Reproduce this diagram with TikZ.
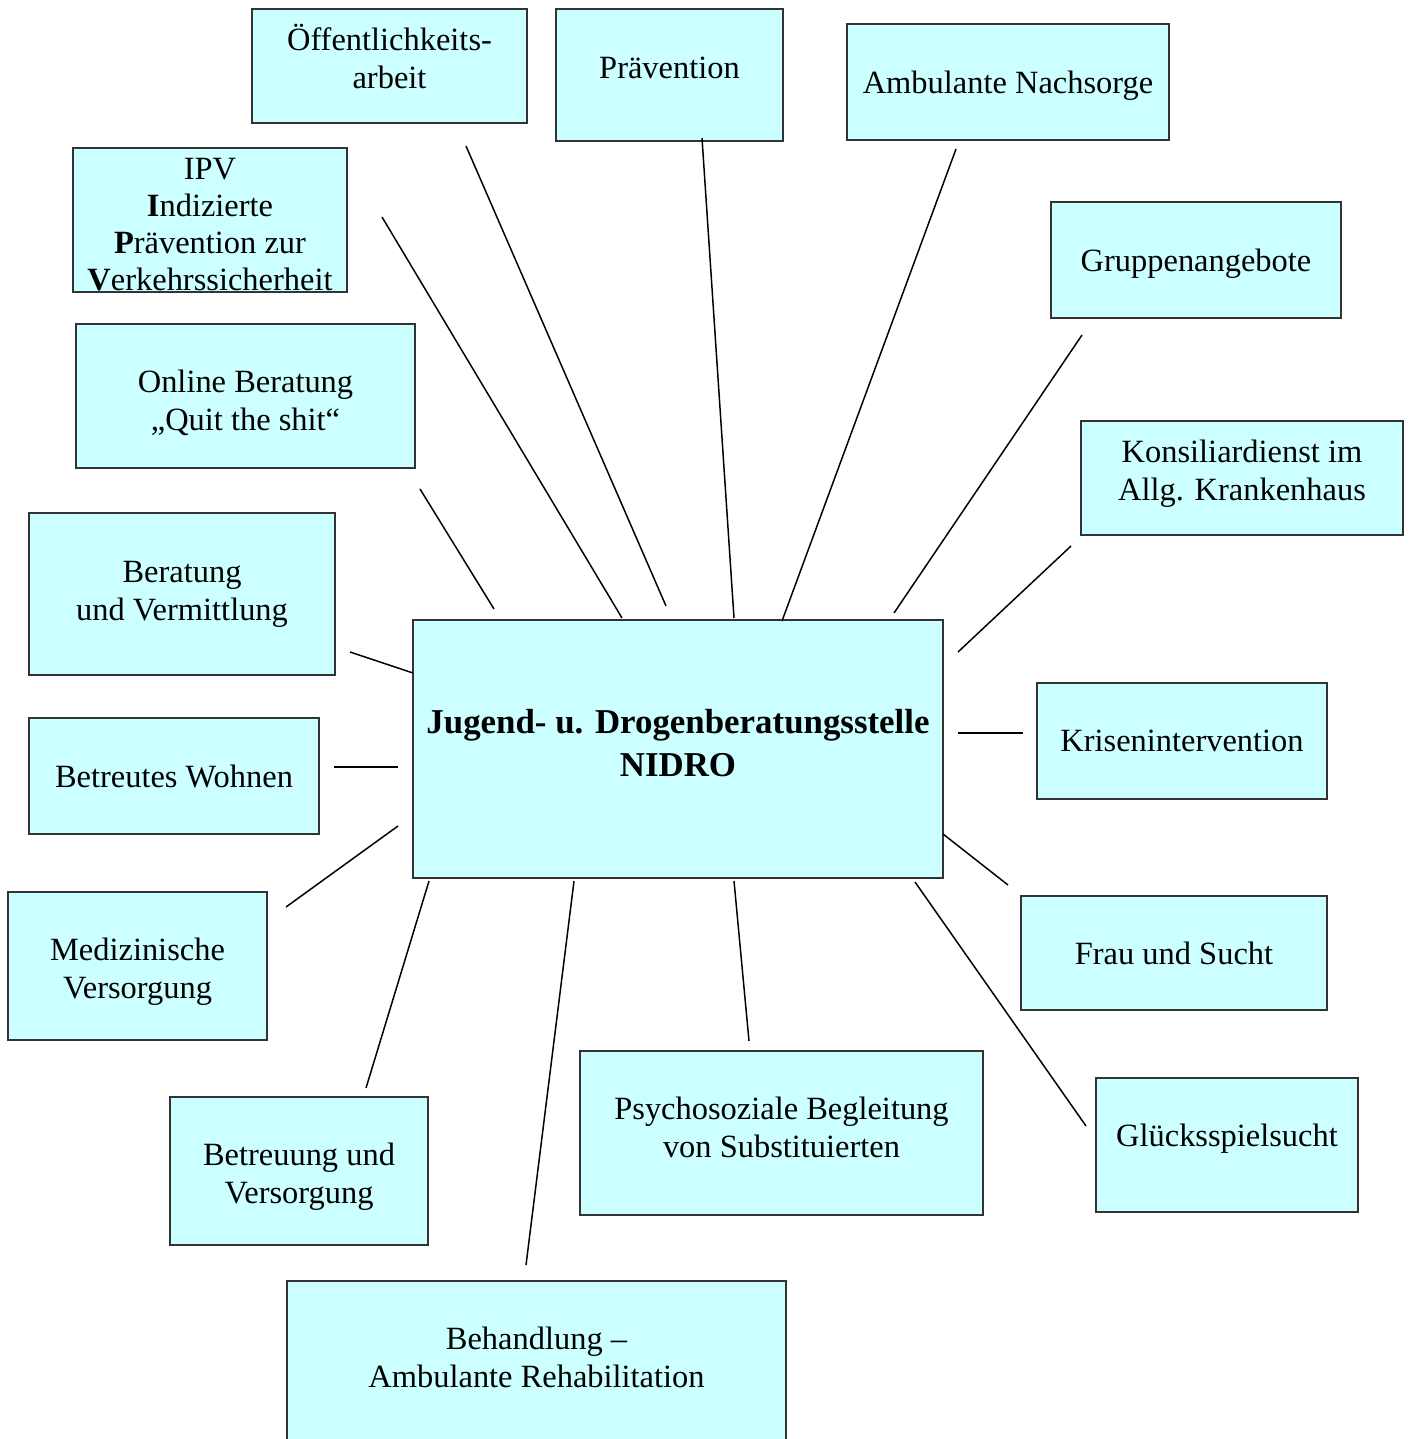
\documentclass[tikz,border=0pt]{standalone}
\usepackage{fontspec}
\setmainfont{Liberation Serif}
\definecolor{NidroCyan}{HTML}{CCFFFF}
\definecolor{FrameGray}{HTML}{333333}
\tikzset{
    box/.style={rectangle, draw=FrameGray, line width=0.4pt, fill=NidroCyan, align=center, inner sep=0pt, font=\fontsize{12}{14}\selectfont},
    hub/.style={box, font=\fontsize{12.9}{15.9}\selectfont\bfseries},
    size/.style 2 args={minimum width=#1*0.013cm, minimum height=#2*0.013cm},
    lnk/.style={draw=black, line width=0.55pt},
}
% Text etwas tiefer / hoeher setzen
\newcommand{\tdown}[1]{\rule{0pt}{#1}}
\newcommand{\tup}[1]{\rule[-#1]{0pt}{#1}}

\begin{document}
\begin{tikzpicture}[x=0.013cm, y=-0.013cm]
\clip (0,0) rectangle (1409,1439);
\fill[white] (0,0) rectangle (1409,1439);

% Zentrale
\node[hub, size={530}{258}] (nidro) at (678,749) {Jugend- u. Drogenberatungsstelle\\NIDRO\tup{4.4pt}};

% Angebote oben
\node[box, size={275}{114}] (oeff) at (389.5,66) {Öffentlichkeits-\\arbeit\tup{7.4pt}};
\node[box, size={227}{132}] (praev) at (669.5,75) {Prävention\tup{5.2pt}};
\node[box, size={322}{116}] (nachsorge) at (1008,82) {\tdown{11.2pt}Ambulante Nachsorge};
\node[box, size={274}{144}, font=\fontsize{12}{13.7}\selectfont] (ipv) at (210,220) {\tdown{11.2pt}IPV\\\textbf{I}ndizierte\\\textbf{P}rävention zur\\\textbf{V}erkehrssicherheit};
\node[box, size={290}{116}] (gruppe) at (1196,260) {\tdown{11.2pt}Gruppenangebote};

% Angebote links
\node[box, size={339}{144}] (online) at (245.5,396) {\tdown{13.4pt}Online Beratung\\„Quit the shit“};
\node[box, size={306}{162}] (beratung) at (182,594) {Beratung\\und Vermittlung};
\node[box, size={290}{116}] (wohnen) at (174,776) {Betreutes Wohnen};
\node[box, size={259}{148}] (medizin) at (137.5,966) {\tdown{12.6pt}Medizinische\\Versorgung};

% Angebote rechts
\node[box, size={322}{114}] (konsil) at (1242,478) {Konsiliardienst im\\Allg. Krankenhaus\tup{5.6pt}};
\node[box, size={290}{116}] (krise) at (1182,741) {Krisenintervention};
\node[box, size={306}{114}] (frau) at (1174,953) {Frau und Sucht};
\node[box, size={262}{134}] (gluecks) at (1227,1145) {Glücksspielsucht\tup{7pt}};

% Angebote unten
\node[box, size={258}{148}] (betreuung) at (299,1171) {\tdown{12.6pt}Betreuung und\\Versorgung};
\node[box, size={403}{164}] (psycho) at (781.5,1133) {Psychosoziale Begleitung\\von Substituierten\tup{4.4pt}};
\node[box, size={499}{160}] (behandlung) at (536.5,1361) {Behandlung –\\Ambulante Rehabilitation\tup{3pt}};

% Linienenden
\coordinate (oeff-a) at (466,146);      \coordinate (oeff-b) at (666,606);
\coordinate (praev-a) at (702,138);     \coordinate (praev-b) at (734,618);
\coordinate (nachsorge-a) at (956,149); \coordinate (nachsorge-b) at (782,621);
\coordinate (ipv-a) at (382,217);       \coordinate (ipv-b) at (622,618);
\coordinate (gruppe-a) at (1082,335);   \coordinate (gruppe-b) at (894,613);
\coordinate (online-a) at (420,489);    \coordinate (online-b) at (494,609);
\coordinate (konsil-a) at (1071,546);   \coordinate (konsil-b) at (958,652);
\coordinate (beratung-a) at (350,652);  \coordinate (beratung-b) at (413,673);
\coordinate (wohnen-a) at (334,767);    \coordinate (wohnen-b) at (398,767);
\coordinate (krise-a) at (1023,733);    \coordinate (krise-b) at (958,733);
\coordinate (medizin-a) at (286,907);   \coordinate (medizin-b) at (398,826);
\coordinate (frau-a) at (1008,885);     \coordinate (frau-b) at (943,834);
\coordinate (betreuung-a) at (366,1088); \coordinate (betreuung-b) at (429,881);
\coordinate (behandlung-a) at (526,1265); \coordinate (behandlung-b) at (574,881);
\coordinate (psycho-a) at (749,1041);   \coordinate (psycho-b) at (734,881);
\coordinate (gluecks-a) at (1086,1126); \coordinate (gluecks-b) at (915,882);

% Verbindungen
\foreach \n in {oeff, praev, nachsorge, ipv, gruppe, online, konsil, beratung,
                wohnen, krise, medizin, frau, betreuung, behandlung, psycho, gluecks}
    \draw[lnk] (\n-a) -- (\n-b);

\end{tikzpicture}
\end{document}
